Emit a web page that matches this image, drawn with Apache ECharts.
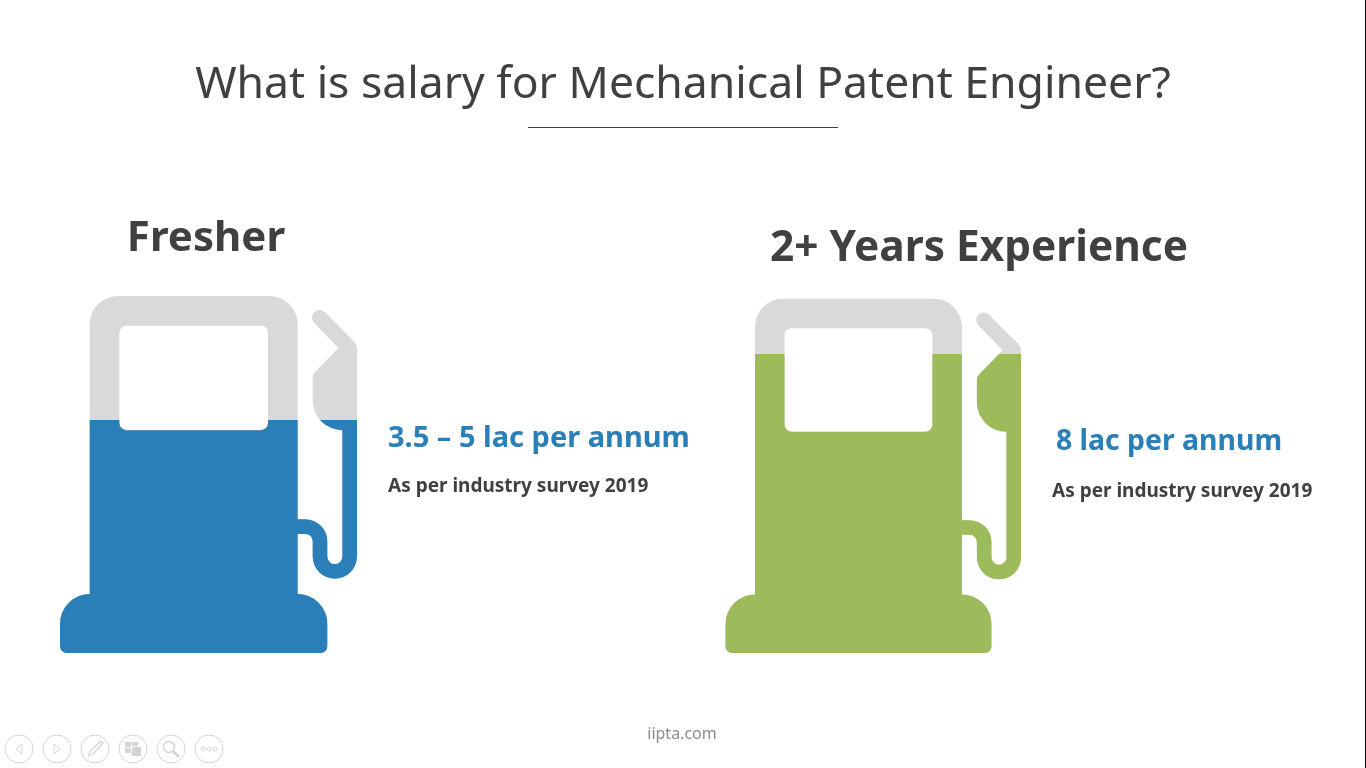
<!DOCTYPE html>
<html><head><meta charset="utf-8">
<style>html,body{margin:0;padding:0;background:#fff}#c{width:1366px;height:768px}</style>
<script src="https://cdn.jsdelivr.net/npm/echarts@6/dist/echarts.min.js"></script>
</head><body><div id="c"></div>
<script>
const categories = ['Fresher', '2+ Years Experience'];
const fillPercent = [65.3, 84.4];
const fullLevel = [100, 100];
const fillColors = ['#2A7FB8', '#9DBB5B'];
const salaryLabels = ['3.5 – 5 lac per annum', '8 lac per annum'];
const sourceLabel = 'As per industry survey 2019';
const chartTitle = 'What is salary for Mechanical Patent Engineer?';
const footerText = 'iipta.com';

const pump = 'path://M60 1015A89 89 0 0 1 149 926L149 118A85 85 0 0 1 234 33L688 33A85 85 0 0 1 773 118L773 702L796 702A66 66 0 0 1 862 768L862 814A22.5 22.5 0 0 0 907 814L907 435A89 89 0 0 1 818 346L818 278Q818 268 825 261L896 189L822 113A22 22 0 0 1 855 82L943 170Q951 178 951 190L951 814A66.5 66.5 0 0 1 818 814L818 768A22 22 0 0 0 796 746L773 746L773 926A89 89 0 0 1 862 1015L862 1083A20 20 0 0 1 842 1103L80 1103A20 20 0 0 1 60 1083Z'
 + 'M260 122A22 22 0 0 0 238 144L238 413A22 22 0 0 0 260 435L662 435A22 22 0 0 0 684 413L684 144A22 22 0 0 0 662 122Z';

const grids = [
  {left: 60, top: 296, width: 297, height: 357},
  {left: 725.5, top: 298.7, width: 295.5, height: 354.3}
];
const series = [];
categories.forEach((c, i) => {
  series.push({
    type: 'pictorialBar', xAxisIndex: i, yAxisIndex: i, silent: true, z: 2,
    barWidth: '100%', barGap: '-100%',
    symbol: pump, symbolSize: ['100%', '100%'], symbolBoundingData: 100,
    itemStyle: {color: '#D9D9D9'}, data: [fullLevel[i]]
  });
  series.push({
    type: 'pictorialBar', xAxisIndex: i, yAxisIndex: i, silent: true, z: 3,
    barWidth: '100%', barGap: '-100%',
    symbol: pump, symbolSize: ['100%', '100%'], symbolBoundingData: 100, symbolClip: true,
    itemStyle: {color: fillColors[i]}, data: [fillPercent[i]]
  });
});

const t = (x, y, s, size, weight, fill, align) => ({
  type: 'text', x, y, silent: true,
  style: {text: s, fontFamily: '"Noto Sans"', fontSize: size, fontWeight: weight, fill, align: align || 'left', verticalAlign: 'middle'}
});
const btnColor = '#D4D4D4';
const btnX = [19, 57, 95, 133, 171, 209];
const buttons = [];
btnX.forEach(x => buttons.push({type: 'circle', silent: true, shape: {cx: x, cy: 749, r: 14}, style: {fill: '#fff', stroke: btnColor, lineWidth: 1}}));
const line = (pts, w) => ({type: 'polyline', silent: true, shape: {points: pts}, style: {fill: 'none', stroke: btnColor, lineWidth: w || 1}});
buttons.push(line([[22,744],[16,749],[22,754],[22,744]]));
buttons.push(line([[54,744],[60,749],[54,754],[54,744]]));
buttons.push(line([[88,756],[91,750],[101,741],[103,743],[94,753],[88,756]], 1.2));
buttons.push({type:'rect',silent:true,shape:{x:125,y:742,width:6,height:5},style:{fill:btnColor}});
buttons.push({type:'rect',silent:true,shape:{x:132,y:742,width:6,height:4},style:{fill:btnColor}});
buttons.push({type:'rect',silent:true,shape:{x:125,y:748,width:6,height:5},style:{fill:btnColor}});
buttons.push({type:'rect',silent:true,shape:{x:132,y:747,width:9,height:9},style:{fill:btnColor}});
buttons.push({type:'circle',silent:true,shape:{cx:169,cy:747,r:5.5},style:{fill:'none',stroke:btnColor,lineWidth:1.5}});
buttons.push(line([[173,751],[179,757]], 2.5));
[203,209,215].forEach(x => buttons.push({type:'circle',silent:true,shape:{cx:x,cy:749,r:2},style:{fill:'none',stroke:btnColor,lineWidth:1}}));

const option = {
  animation: false,
  backgroundColor: '#fff',
  grid: grids,
  xAxis: grids.map((g, i) => ({gridIndex: i, type: 'category', data: [categories[i]], show: false})),
  yAxis: grids.map((g, i) => ({gridIndex: i, type: 'value', min: 0, max: 100, show: false})),
  series,
  graphic: [
    t(683, 85, chartTitle, 44.5, 400, '#404040', 'center'),
    {type: 'line', silent: true, shape: {x1: 528, y1: 127.5, x2: 838, y2: 127.5}, style: {stroke: '#404040', lineWidth: 1}},
    {type: 'line', silent: true, shape: {x1: 1365.5, y1: 0, x2: 1365.5, y2: 768}, style: {stroke: '#000', lineWidth: 1}},
    t(206, 239, categories[0], 42, 700, '#404040', 'center'),
    t(979, 249, categories[1], 42.4, 700, '#404040', 'center'),
    t(388, 439, salaryLabels[0], 29, 700, fillColors[0]),
    t(1056, 442, salaryLabels[1], 28.4, 700, fillColors[0]),
    t(388, 487, sourceLabel, 19, 700, '#404040'),
    t(1052, 492, sourceLabel, 19, 700, '#404040'),
    t(682, 734, footerText, 16, 400, '#8C8C8C', 'center'),
    ...buttons
  ]
};
echarts.init(document.getElementById('c'), null, {renderer: 'canvas'}).setOption(option);
</script></body></html>
